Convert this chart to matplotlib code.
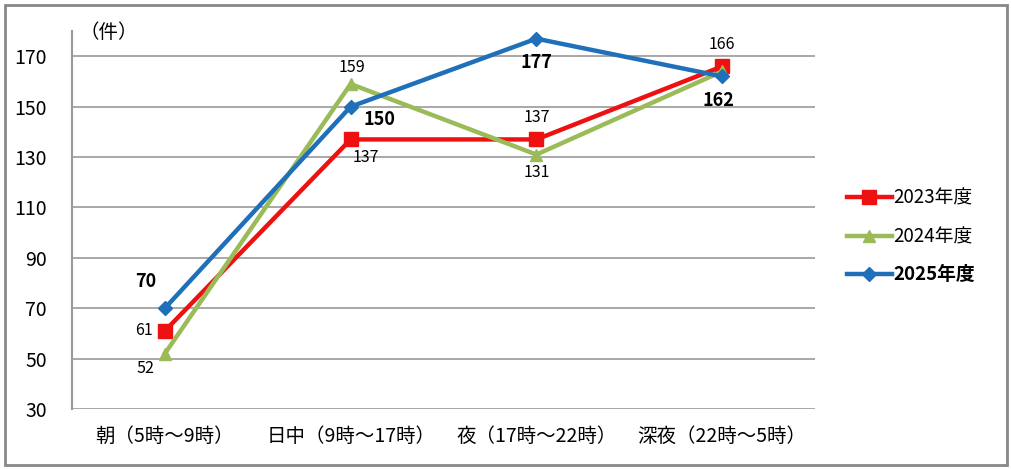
import matplotlib.pyplot as plt
from matplotlib.patches import Rectangle

plt.rcParams['font.family'] = ['Noto Sans CJK JP', 'DejaVu Sans']

categories = ["朝（5時～9時）", "日中（9時～17時）", "夜（17時～22時）", "深夜（22時～5時）"]
series_names = ["2023年度", "2024年度", "2025年度"]
values_2023 = [61, 137, 137, 166]
values_2024 = [52, 159, 131, 164]
values_2025 = [70, 150, 177, 162]
yticks = [30, 50, 70, 90, 110, 130, 150, 170]

colors = ["#EE1111", "#9BBB59", "#1F70B8"]

fig = plt.figure(figsize=(10.11, 4.70), dpi=100)
ax = fig.add_axes([0.0712, 0.1298, 0.735, 0.804])

x = list(range(len(categories)))
ax.plot(x, values_2023, color=colors[0], lw=3.2, marker="s", ms=10, label=series_names[0], zorder=3)
ax.plot(x, values_2024, color=colors[1], lw=3.2, marker="^", ms=9, label=series_names[1], zorder=3)
ax.plot(x, values_2025, color=colors[2], lw=3.2, marker="D", ms=7, label=series_names[2], zorder=4)

ax.set_xlim(-0.5, 3.5)
ax.set_ylim(30, 180)
ax.set_yticks(yticks)
ax.set_xticks(x)
ax.set_xticklabels(categories, fontsize=14)
ax.tick_params(axis="y", labelsize=14, length=0, pad=18)
ax.tick_params(axis="x", length=0, pad=12)
ax.grid(axis="y", color="#999999", lw=1.2)
ax.set_axisbelow(True)
for s in ["top", "right", "bottom"]:
    ax.spines[s].set_visible(False)
ax.spines["left"].set_color("#999999")
ax.spines["left"].set_linewidth(1.5)

ax.text(-0.46, 179.5, "（件）", fontsize=14, va="center", ha="left")

# data labels
def lab(xi, yi, text, dx, dy, bold=False):
    ax.annotate(text, (xi, yi), xytext=(dx, dy), textcoords="offset points",
                ha="center", va="center", fontsize=13 if bold else 11.5,
                fontweight="bold" if bold else "normal")

lab(0, values_2023[0], str(values_2023[0]), -15, 0)
lab(1, values_2023[1], str(values_2023[1]), 11, -13)
lab(2, values_2023[2], str(values_2023[2]), 0, 16)
lab(3, values_2023[3], str(values_2023[3]), 0, 16)
lab(0, values_2024[0], str(values_2024[0]), -14, -11)
lab(1, values_2024[1], str(values_2024[1]), 1, 12)
lab(2, values_2024[2], str(values_2024[2]), 0, -13)
lab(0, values_2025[0], str(values_2025[0]), -14, 19, bold=True)
lab(1, values_2025[1], str(values_2025[1]), 21, -9, bold=True)
lab(2, values_2025[2], str(values_2025[2]), 0, -17, bold=True)
lab(3, values_2025[3], str(values_2025[3]), -3, -17, bold=True)

leg = ax.legend(loc="center left", bbox_to_anchor=(1.02, 0.458), frameon=False,
                fontsize=13.5, handlelength=2.4, labelspacing=0.95, handletextpad=0.1)
leg.get_texts()[2].set_fontweight("bold")

fig.patches.append(Rectangle((0.005, 0.01), 0.991, 0.98, transform=fig.transFigure,
                             fill=False, edgecolor="#888888", lw=2))

fig.savefig("out.png", dpi=100)
